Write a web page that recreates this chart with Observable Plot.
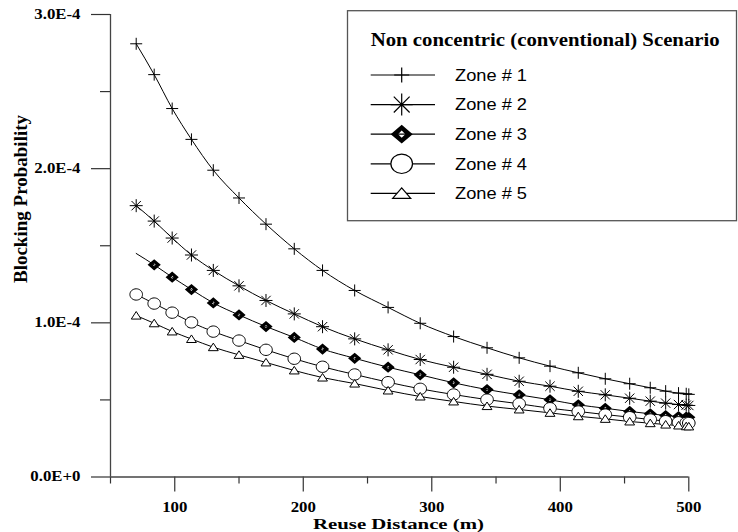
<!DOCTYPE html>
<html>
<head>
<meta charset="utf-8">
<script src="https://cdn.jsdelivr.net/npm/d3@7"></script>
<script src="https://cdn.jsdelivr.net/npm/@observablehq/plot@0.6"></script>
<style>
  html, body { margin: 0; padding: 0; background: #fff; }
  #chart svg { display: block; }
</style>
</head>
<body>
<div id="chart"></div>
<script>
// ---- data (blocking probability values in units of 1E-4) ----
const reuseDistance = [70, 84, 98, 113, 130, 150, 171, 193, 215, 240, 266, 291, 317, 343, 368, 392, 414, 435, 454, 470, 482, 492, 498, 500];
const zone1 = [2.81, 2.61, 2.39, 2.19, 1.99, 1.81, 1.64, 1.48, 1.34, 1.21, 1.10, 0.997, 0.911, 0.838, 0.773, 0.719, 0.676, 0.637, 0.605, 0.579, 0.557, 0.544, 0.540, 0.536];
const zone2 = [1.76, 1.66, 1.55, 1.44, 1.34, 1.24, 1.145, 1.058, 0.975, 0.896, 0.825, 0.762, 0.712, 0.666, 0.621, 0.589, 0.556, 0.533, 0.511, 0.492, 0.479, 0.470, 0.466, 0.464];
const zone3 = [1.45, 1.376, 1.296, 1.216, 1.129, 1.051, 0.976, 0.905, 0.830, 0.770, 0.712, 0.663, 0.611, 0.567, 0.533, 0.501, 0.468, 0.446, 0.425, 0.410, 0.399, 0.392, 0.388, 0.387];
const zone4 = [1.184, 1.125, 1.066, 1.003, 0.943, 0.885, 0.825, 0.767, 0.715, 0.665, 0.615, 0.572, 0.535, 0.502, 0.475, 0.446, 0.425, 0.405, 0.388, 0.373, 0.362, 0.355, 0.351, 0.350];
const zone5 = [1.047, 0.997, 0.944, 0.895, 0.842, 0.792, 0.743, 0.691, 0.645, 0.606, 0.561, 0.522, 0.490, 0.460, 0.438, 0.416, 0.394, 0.377, 0.360, 0.349, 0.340, 0.334, 0.329, 0.328];
const zoneNames = ["Zone # 1", "Zone # 2", "Zone # 3", "Zone # 4", "Zone # 5"];
const firstMarkerIndex = [0, 0, 1, 0, 0];
const unit = 1e-4;

const yTicks = [0, 1e-4, 2e-4, 3e-4];
const yMinorTicks = [0.5e-4, 1.5e-4, 2.5e-4];
const xTicks = [100, 200, 300, 400, 500];
const xMinorTicks = [50, 150, 250, 350, 450];
const legendTitle = "Non concentric (conventional) Scenario";
const xLabel = "Reuse Distance (m)";
const yLabel = "Blocking Probability";

// ---- custom marker symbols ----
const rOf = size => Math.sqrt(size / Math.PI);
const symPlus = {draw(c, s) { const r = rOf(s); c.moveTo(-r, 0); c.lineTo(r, 0); c.moveTo(0, -r); c.lineTo(0, r); }};
const symStar = {draw(c, s) { const r = rOf(s), d = r * 0.72;
  c.moveTo(-r, 0); c.lineTo(r, 0); c.moveTo(0, -r); c.lineTo(0, r);
  c.moveTo(-d, -d); c.lineTo(d, d); c.moveTo(-d, d); c.lineTo(d, -d); }};
const diamond = (qf) => ({draw(c, s) { const r = rOf(s), h = r * 0.85, q = r * qf;
  c.moveTo(0, -h); c.lineTo(r, 0); c.lineTo(0, h); c.lineTo(-r, 0); c.closePath();
  c.moveTo(0, -q); c.lineTo(-q, 0); c.lineTo(0, q); c.lineTo(q, 0); c.closePath(); }});
const symDiamond = diamond(0.22);
const symDiamondLegend = diamond(0.33);
const symEllipse = {draw(c, s) { const rx = rOf(s), ry = rx * 0.9, k = 0.5523;
  c.moveTo(rx, 0);
  c.bezierCurveTo(rx, k * ry, k * rx, ry, 0, ry);
  c.bezierCurveTo(-k * rx, ry, -rx, k * ry, -rx, 0);
  c.bezierCurveTo(-rx, -k * ry, -k * rx, -ry, 0, -ry);
  c.bezierCurveTo(k * rx, -ry, rx, -k * ry, rx, 0); c.closePath(); }};
const triangle = (hw, top, bot) => ({draw(c, s) { const r = rOf(s);
  c.moveTo(0, -top * r); c.lineTo(hw * r, bot * r); c.lineTo(-hw * r, bot * r); c.closePath(); }});
const symTriangle = triangle(0.82, 0.68, 0.58);
const symTriangleLegend = triangle(0.82, 0.5, 0.45);

const symbols = [symPlus, symStar, symDiamond, symEllipse, symTriangle];
const legendSymbols = [symPlus, symStar, symDiamondLegend, symEllipse, symTriangleLegend];
const fills = ["none", "none", "black", "white", "white"];
const strokes = ["black", "black", "none", "black", "black"];
const markerR = [6, 6.5, 6.6, 6.3, 6];
const legendR = [7.5, 11, 11, 10.8, 11];

// ---- build rows ----
const series = [zone1, zone2, zone3, zone4, zone5];
const rows = series.flatMap((vals, k) => vals.map((v, j) => ({k, j, zone: zoneNames[k], x: reuseDistance[j], y: v * unit})));

const fmtY = d => d === 0 ? "0.0E+0" : (d / unit).toFixed(1) + "E-4";

const marks = [];
series.forEach((_, k) => {
  marks.push(Plot.line(rows.filter(d => d.k === k), {x: "x", y: "y", curve: "monotone-x", stroke: "black", strokeWidth: 1}));
});
series.forEach((_, k) => {
  marks.push(Plot.dot(rows.filter(d => d.k === k && d.j >= firstMarkerIndex[k]), {
    x: "x", y: "y", r: markerR[k], symbol: symbols[k],
    fill: fills[k], stroke: strokes[k], strokeWidth: 1
  }));
});

const chart = Plot.plot({
  width: 738,
  height: 532,
  marginLeft: 110,
  marginRight: 49.7,
  marginTop: 14,
  marginBottom: 55.5,
  style: {fontFamily: "'Liberation Serif', 'Times New Roman', serif", fontWeight: "bold", fontSize: "14px", color: "black", background: "white", overflow: "visible"},
  x: {domain: [50, 500]},
  y: {domain: [0, 3e-4]},
  marks: [
    Plot.axisY({ticks: yMinorTicks, tickSize: 10, tickFormat: () => "", label: null, stroke: "#333", strokeWidth: 1.2}),
    Plot.axisY({ticks: yTicks, tickSize: 19, tickPadding: 11, tickFormat: fmtY, label: null, stroke: "#333", strokeWidth: 1.2, fontSize: 14}),
    Plot.axisX({ticks: xMinorTicks, tickSize: 7, tickFormat: () => "", label: null, stroke: "#333", strokeWidth: 1.2}),
    Plot.axisX({ticks: xTicks, tickSize: 15, tickPadding: 10, tickFormat: d => String(d), label: null, stroke: "#333", strokeWidth: 1.2, fontSize: 14}),
    Plot.ruleX([50], {y1: 0, y2: 3e-4, stroke: "#444", strokeWidth: 1.3}),
    Plot.ruleY([0], {x1: 50, x2: 500, stroke: "#444", strokeWidth: 1.3}),
    ...marks
  ]
});

document.getElementById("chart").appendChild(chart);
const svg = d3.select(chart);

function stretchText(nodes, k) {
  nodes.forEach(n => {
    const w = n.getComputedTextLength();
    if (w > 0) { n.setAttribute("textLength", (w * k).toFixed(2)); n.setAttribute("lengthAdjust", "spacingAndGlyphs"); }
  });
}
stretchText(Array.from(chart.querySelectorAll('g[aria-label$="tick label"] text')), 1.2);

// axis titles
const serif = "'Liberation Serif', 'Times New Roman', serif";
svg.append("text")
  .attr("x", 398.5).attr("y", 528.5)
  .attr("text-anchor", "middle")
  .attr("font-family", serif).attr("font-weight", "bold").attr("font-size", 15.5)
  .attr("fill", "black")
  .attr("textLength", 171).attr("lengthAdjust", "spacingAndGlyphs")
  .text(xLabel);
svg.append("text")
  .attr("transform", "translate(26.5,199) rotate(-90)")
  .attr("text-anchor", "middle")
  .attr("font-family", serif).attr("font-weight", "bold").attr("font-size", 19)
  .attr("fill", "black")
  .text(yLabel);

// legend
const lg = svg.append("g").attr("class", "legend").attr("text-anchor", "start");
lg.append("rect").attr("x", 347.5).attr("y", 10.7).attr("width", 389).attr("height", 210)
  .attr("fill", "white").attr("stroke", "#555").attr("stroke-width", 1.3);
lg.append("text").attr("x", 370.7).attr("y", 45.5).attr("text-anchor", "start")
  .attr("font-family", serif).attr("font-weight", "bold").attr("font-size", 18.5).attr("fill", "black")
  .attr("textLength", 349).attr("lengthAdjust", "spacingAndGlyphs")
  .text(legendTitle);
zoneNames.forEach((name, k) => {
  const y = 75 + k * 29.6;
  lg.append("line").attr("x1", 370.7).attr("x2", 435).attr("y1", y).attr("y2", y)
    .attr("stroke", "black").attr("stroke-width", 1.2);
  const r = legendR[k];
  lg.append("path")
    .attr("transform", `translate(401.7,${y})`)
    .attr("d", d3.symbol(legendSymbols[k], r * r * Math.PI)())
    .attr("fill", fills[k]).attr("stroke", strokes[k]).attr("stroke-width", 1.2);
  lg.append("text").attr("x", 455).attr("y", y + 5.7).attr("text-anchor", "start")
    .attr("font-family", "'Liberation Sans', Arial, sans-serif").attr("font-weight", "normal")
    .attr("font-size", 15.8).attr("fill", "black")
    .attr("textLength", 72).attr("lengthAdjust", "spacingAndGlyphs")
    .text(name);
});
</script>
</body>
</html>
